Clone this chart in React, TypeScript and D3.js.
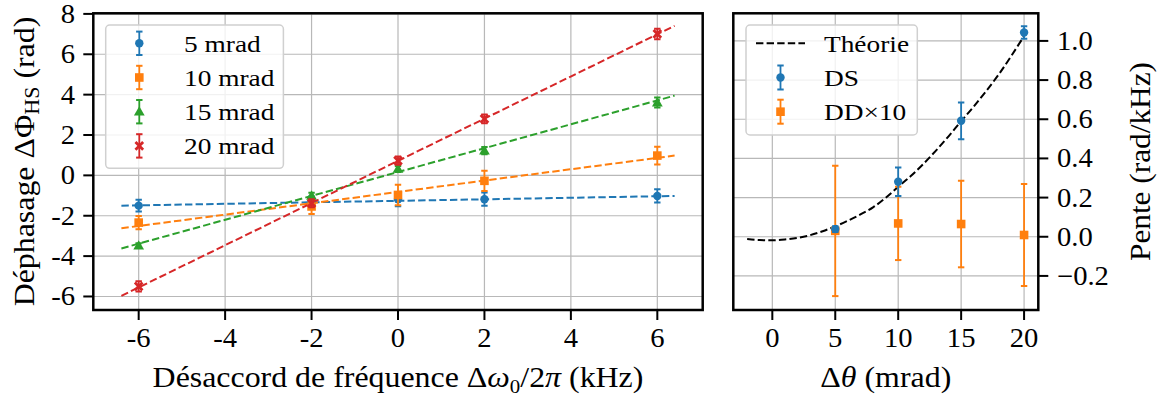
import React from "react";
import * as d3 from "d3";

// ---------- data (left panel) ----------
const detuning = [-6, -2, 0, 2, 6];
const seriesNames = ["5 mrad", "10 mrad", "15 mrad", "20 mrad"];
const phase5 = [-1.5, -1.35, -1.18, -1.18, -1.02];
const err5 = [0.29, 0.3, 0.35, 0.33, 0.33];
const phase10 = [-2.34, -1.54, -0.97, -0.27, 0.98];
const err10 = [0.33, 0.37, 0.51, 0.5, 0.44];
const phase15 = [-3.48, -1.01, 0.32, 1.23, 3.61];
const err15 = [0.12, 0.15, 0.15, 0.18, 0.25];
const phase20 = [-5.5, -1.38, 0.73, 2.8, 7.01];
const err20 = [0.25, 0.2, 0.2, 0.22, 0.26];
const fitX = [-6.4, 6.4];
const fit5 = [-1.5, -1.02];
const fit10 = [-2.62, 0.98];
const fit15 = [-3.62, 3.95];
const fit20 = [-5.97, 7.41];
const leftXTicks = [-6, -4, -2, 0, 2, 4, 6];
const leftXTickLabels = ["-6", "-4", "-2", "0", "2", "4", "6"];
const leftYTicks = [-6, -4, -2, 0, 2, 4, 6, 8];
const leftYTickLabels = ["-6", "-4", "-2", "0", "2", "4", "6", "8"];

// ---------- data (right panel) ----------
const angle = [5, 10, 15, 20];
const ds = [0.039, 0.281, 0.592, 1.043];
const dsErr = [0.015, 0.073, 0.094, 0.032];
const dd = [0.03, 0.068, 0.065, 0.009];
const ddErr = [0.333, 0.187, 0.221, 0.26];
const theoryX = [-2, -1, 0, 1, 2, 3, 4, 5, 6, 7, 8, 9, 10, 11, 12, 13, 14, 15, 16, 17, 18, 19, 20];
const theoryY = [-0.012, -0.017, -0.018, -0.014, -0.006, 0.008, 0.028, 0.053, 0.082, 0.114, 0.15, 0.199, 0.255, 0.31, 0.372, 0.44, 0.513, 0.59, 0.665, 0.745, 0.83, 0.925, 1.025];
const rightXTicks = [0, 5, 10, 15, 20];
const rightXTickLabels = ["0", "5", "10", "15", "20"];
const rightYTicks = [-0.2, 0, 0.2, 0.4, 0.6, 0.8, 1.0];
const rightYTickLabels = ["\u22120.2", "0.0", "0.2", "0.4", "0.6", "0.8", "1.0"];
const rightLegend = ["Th\u00e9orie", "DS", "DD\u00d710"];

const COLORS = ["#1f77b4", "#ff7f0e", "#2ca02c", "#d62728"];
const FONT = "'Liberation Serif', 'Times New Roman', serif";
const GRID = "#b8b8b8";

const xL = d3.scaleLinear().domain([-7.05, 7.05]).range([93.3, 702.7]);
const yL = d3.scaleLinear().domain([-6.67, 8.03]).range([310, 13.3]);
const xR = d3.scaleLinear().domain([-3.1, 21.13]).range([733.3, 1038.3]);
const yR = d3.scaleLinear().domain([-0.374, 1.141]).range([310, 13.3]);

type Shape = "circle" | "square" | "triangle" | "x";

function Marker({ x, y, shape, color }: { x: number; y: number; shape: Shape; color: string }) {
  if (shape === "circle") return <circle cx={x} cy={y} r={4.2} fill={color} />;
  if (shape === "square") return <rect x={x - 4.3} y={y - 4.3} width={8.6} height={8.6} fill={color} />;
  if (shape === "triangle") {
    const p = d3.symbol().type(d3.symbolTriangle).size(50)();
    return <path d={p || ""} transform={`translate(${x},${y + 0.8})`} fill={color} />;
  }
  const p = d3.symbol().type(d3.symbolX).size(40)();
  return <path d={p || ""} transform={`translate(${x},${y})`} stroke={color} strokeWidth={2.8} fill="none" />;
}

function ErrBar({ x, y0, y1, color }: { x: number; y0: number; y1: number; color: string }) {
  return (
    <g stroke={color} strokeWidth={1.8}>
      <line x1={x} x2={x} y1={y0} y2={y1} />
      <line x1={x - 3.2} x2={x + 3.2} y1={y0} y2={y0} strokeWidth={2} />
      <line x1={x - 3.2} x2={x + 3.2} y1={y1} y2={y1} strokeWidth={2} />
    </g>
  );
}

// text stretched horizontally to approximate the wider Computer Modern face
function SText({
  x,
  y,
  size,
  sx,
  anchor = "start",
  rotate = 0,
  children,
}: {
  x: number;
  y: number;
  size: number;
  sx: number;
  anchor?: "start" | "middle" | "end";
  rotate?: number;
  children: React.ReactNode;
}) {
  return (
    <g transform={`translate(${x},${y}) rotate(${rotate}) scale(${sx},1)`}>
      <text x={0} y={0} textAnchor={anchor} fontSize={size}>
        {children}
      </text>
    </g>
  );
}

export default function App() {
  const leftVals = [phase5, phase10, phase15, phase20];
  const leftErrs = [err5, err10, err15, err20];
  const fits = [fit5, fit10, fit15, fit20];
  const shapes: Shape[] = ["circle", "square", "triangle", "x"];

  const theoryLine =
    d3
      .line<number>()
      .x((_, i) => xR(theoryX[i]))
      .y((d) => yR(d))
      .curve(d3.curveMonotoneX)(theoryY) || "";

  const tickFont = 27;
  const tickSx = 1.06;
  const labelFont = 29;
  const labelSx = 1.1;
  const legendFont = 24;
  const legendSx = 1.14;

  return (
    <svg width={1160} height={396} style={{ position: "absolute", left: 0, top: 0, background: "#fff" }} fontFamily={FONT}>
      <rect x={0} y={0} width={1160} height={396} fill="#fff" />
      <defs>
        <clipPath id="clipL">
          <rect x={93.3} y={13.3} width={609.4} height={296.7} />
        </clipPath>
        <clipPath id="clipR">
          <rect x={733.3} y={13.3} width={305} height={296.7} />
        </clipPath>
      </defs>

      {/* ===== LEFT PANEL ===== */}
      <g>
        {leftXTicks.map((t) => (
          <line key={"gx" + t} x1={xL(t)} x2={xL(t)} y1={13.3} y2={310} stroke={GRID} strokeWidth={1.2} />
        ))}
        {leftYTicks.map((t) => (
          <line key={"gy" + t} x1={93.3} x2={702.7} y1={yL(t)} y2={yL(t)} stroke={GRID} strokeWidth={1.2} />
        ))}
        <g clipPath="url(#clipL)">
          {fits.map((f, s) => (
            <line
              key={"fit" + s}
              x1={xL(fitX[0])}
              x2={xL(fitX[1])}
              y1={yL(f[0])}
              y2={yL(f[1])}
              stroke={COLORS[s]}
              strokeWidth={2}
              strokeDasharray="7.4,3.2"
            />
          ))}
          {leftVals.map((vals, s) => (
            <g key={"s" + s}>
              {vals.map((v, i) => (
                <g key={i}>
                  <ErrBar x={xL(detuning[i])} y0={yL(v - leftErrs[s][i])} y1={yL(v + leftErrs[s][i])} color={COLORS[s]} />
                  <Marker x={xL(detuning[i])} y={yL(v)} shape={shapes[s]} color={COLORS[s]} />
                </g>
              ))}
            </g>
          ))}
        </g>
        <rect x={93.3} y={13.3} width={609.4} height={296.7} fill="none" stroke="#000" strokeWidth={2.5} />
        {leftXTicks.map((t, i) => (
          <g key={"xt" + t}>
            <line x1={xL(t)} x2={xL(t)} y1={310} y2={320} stroke="#000" strokeWidth={2} />
            <SText x={xL(t)} y={347} size={tickFont} sx={tickSx} anchor="middle">
              {leftXTickLabels[i]}
            </SText>
          </g>
        ))}
        {leftYTicks.map((t, i) => (
          <g key={"yt" + t}>
            <line x1={83.3} x2={93.3} y1={yL(t)} y2={yL(t)} stroke="#000" strokeWidth={2} />
            <SText x={75} y={yL(t) + 9} size={tickFont} sx={tickSx} anchor="end">
              {leftYTickLabels[i]}
            </SText>
          </g>
        ))}
        {/* legend */}
        <rect x={105.7} y={25} width={177.7} height={143.3} rx={4} fill="#fff" fillOpacity={0.8} stroke="#d0d0d0" strokeWidth={1.5} />
        {seriesNames.map((n, s) => {
          const cy = 43.3 + s * 34.2;
          return (
            <g key={"lg" + s}>
              <ErrBar x={139.3} y0={cy - 11.7} y1={cy + 11.7} color={COLORS[s]} />
              <Marker x={139.3} y={cy} shape={shapes[s]} color={COLORS[s]} />
              <SText x={184} y={cy + 8.3} size={legendFont} sx={legendSx}>
                {n}
              </SText>
            </g>
          );
        })}
        {/* axis labels */}
        <SText x={398} y={387} size={labelFont} sx={labelSx} anchor="middle">
          Désaccord de fréquence Δ<tspan fontStyle="italic">ω</tspan>
          <tspan fontSize={19} dy={6}>0</tspan>
          <tspan dy={-6}>/2</tspan>
          <tspan fontStyle="italic">π</tspan> (kHz)
        </SText>
        <SText x={33.5} y={161.5} size={labelFont} sx={labelSx} anchor="middle" rotate={-90}>
          Déphasage ΔΦ
          <tspan fontSize={20} dy={5}>HS</tspan>
          <tspan dy={-5}> (rad)</tspan>
        </SText>
      </g>

      {/* ===== RIGHT PANEL ===== */}
      <g>
        {rightXTicks.map((t) => (
          <line key={"rgx" + t} x1={xR(t)} x2={xR(t)} y1={13.3} y2={310} stroke={GRID} strokeWidth={1.2} />
        ))}
        {rightYTicks.map((t) => (
          <line key={"rgy" + t} x1={733.3} x2={1038.3} y1={yR(t)} y2={yR(t)} stroke={GRID} strokeWidth={1.2} />
        ))}
        <g clipPath="url(#clipR)">
          <path d={theoryLine} fill="none" stroke="#000" strokeWidth={2} strokeDasharray="7.4,3.2" />
          {dd.map((v, i) => (
            <g key={"dd" + i}>
              <ErrBar x={xR(angle[i])} y0={yR(v - ddErr[i])} y1={yR(v + ddErr[i])} color={COLORS[1]} />
              <Marker x={xR(angle[i])} y={yR(v)} shape="square" color={COLORS[1]} />
            </g>
          ))}
          {ds.map((v, i) => (
            <g key={"ds" + i}>
              <ErrBar x={xR(angle[i])} y0={yR(v - dsErr[i])} y1={yR(v + dsErr[i])} color={COLORS[0]} />
              <Marker x={xR(angle[i])} y={yR(v)} shape="circle" color={COLORS[0]} />
            </g>
          ))}
        </g>
        <rect x={733.3} y={13.3} width={305} height={296.7} fill="none" stroke="#000" strokeWidth={2.5} />
        {rightXTicks.map((t, i) => (
          <g key={"rxt" + t}>
            <line x1={xR(t)} x2={xR(t)} y1={310} y2={320} stroke="#000" strokeWidth={2} />
            <SText x={xR(t)} y={347} size={tickFont} sx={tickSx} anchor="middle">
              {rightXTickLabels[i]}
            </SText>
          </g>
        ))}
        {rightYTicks.map((t, i) => (
          <g key={"ryt" + t}>
            <line x1={1038.3} x2={1048.3} y1={yR(t)} y2={yR(t)} stroke="#000" strokeWidth={2} />
            <SText x={1057} y={yR(t) + 9} size={tickFont} sx={tickSx} anchor="start">
              {rightYTickLabels[i]}
            </SText>
          </g>
        ))}
        {/* legend */}
        <rect x={746} y={25} width={171.3} height={110} rx={4} fill="#fff" fillOpacity={0.8} stroke="#d0d0d0" strokeWidth={1.5} />
        <line x1={756} x2={805} y1={43.3} y2={43.3} stroke="#000" strokeWidth={2} strokeDasharray="7.4,3.2" />
        <ErrBar x={780.5} y0={77.5 - 12} y1={77.5 + 12} color={COLORS[0]} />
        <Marker x={780.5} y={77.5} shape="circle" color={COLORS[0]} />
        <ErrBar x={780.5} y0={111.7 - 12} y1={111.7 + 12} color={COLORS[1]} />
        <Marker x={780.5} y={111.7} shape="square" color={COLORS[1]} />
        {rightLegend.map((n, i) => (
          <SText key={"rl" + i} x={824} y={43.3 + i * 34.2 + 8.3} size={legendFont} sx={legendSx}>
            {n}
          </SText>
        ))}
        <SText x={885.8} y={387} size={labelFont} sx={labelSx} anchor="middle">
          Δ<tspan fontStyle="italic">θ</tspan> (mrad)
        </SText>
        <SText x={1150} y={161.5} size={labelFont} sx={1.08} anchor="middle" rotate={-90}>
          Pente (rad/kHz)
        </SText>
      </g>
    </svg>
  );
}
